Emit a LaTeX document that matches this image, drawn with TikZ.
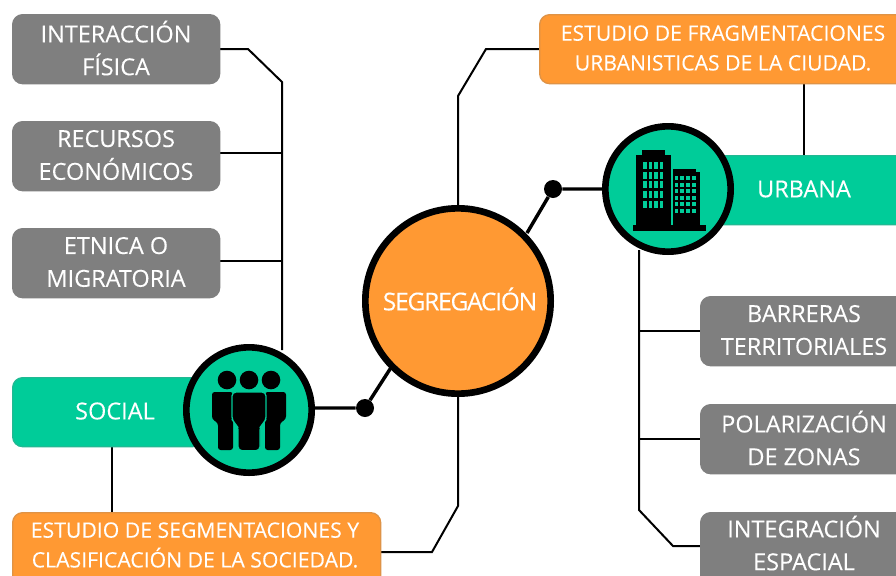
\documentclass[tikz,border=0pt]{standalone}
\usepackage{fontspec}
\setmainfont[FakeBold=0.12]{Open Sans}
\definecolor{cgray}{HTML}{7F7F7F}
\definecolor{cgreen}{HTML}{00CC99}
\definecolor{corange}{HTML}{FF9933}
\tikzset{
  box/.style={rectangle,rounded corners=7.5pt,draw=#1!75!gray,fill=#1,line width=1pt,inner sep=0pt,anchor=north west},
  lab/.style={text=white,align=center,inner sep=0pt,font=\fontsize{17.6}{24.6}\selectfont},
  lab small/.style={text=white,align=center,inner sep=0pt,font=\fontsize{15.9}{22.3}\selectfont},
  hub/.style={circle,draw=black,line width=5pt,inner sep=0pt,minimum size=94pt,fill=cgreen},
  conn/.style={draw=black,line width=1.5pt},
  thick conn/.style={draw=black,line width=2.6pt},
  dot/.style={circle,fill=black,inner sep=0pt,minimum size=13.5pt}
}
\newcommand{\bx}[6]{\node[box=#6,minimum width=#4*0.75pt,minimum height=#5*0.75pt] (#1) at (#2,#3) {};}
\begin{document}
\begin{tikzpicture}[x=0.75pt,y=-0.75pt]
\useasboundingbox (0,0) rectangle (896,575);
\clip (0,0) rectangle (896,575);
\fill[white] (0,0) rectangle (896,575);
\coordinate (j1) at (248,49);
\coordinate (j2) at (282,82);
\coordinate (j3) at (458,96);
\coordinate (j4) at (486,49);
\coordinate (j5) at (458,506);
\coordinate (j6) at (432,552);
\coordinate (j7) at (639,510);
\coordinate (j8) at (673,546);
\coordinate (t1) at (282,153);
\coordinate (t2) at (282,261);
\coordinate (t3) at (639,331);
\coordinate (t4) at (639,439);
\coordinate (t5) at (282,350);
\coordinate (t6) at (639,250);
\coordinate (a2) at (220,49);
\coordinate (b1) at (220,153);
\coordinate (b2) at (220,261);
\coordinate (c1) at (380,552);
\coordinate (c2) at (539,49);
\coordinate (d1) at (700,331);
\coordinate (d2) at (700,439);
\coordinate (d3) at (700,546);
\coordinate (e1) at (112,446);
\coordinate (e2) at (112,512);
\coordinate (f1) at (804,83);
\coordinate (f2) at (804,155);
\coordinate (g1) at (458,210);
\coordinate (g2) at (458,392);
\coordinate (sr) at (312,408);
\coordinate (ul) at (607,189);
\coordinate (sg) at (392,366);
\coordinate (ug) at (527,233);
\path[conn] (a2) -- (j1) -- (j2) -- (t5);
\path[conn] (b1) -- (t1);
\path[conn] (b2) -- (t2);
\path[conn] (g1) -- (j3) -- (j4) -- (c2);
\path[conn] (g2) -- (j5) -- (j6) -- (c1);
\path[conn] (t6) -- (j7) -- (j8) -- (d3);
\path[conn] (t3) -- (d1);
\path[conn] (t4) -- (d2);
\path[conn] (e1) -- (e2);
\path[conn] (f1) -- (f2);
\node[dot] (ds) at (365,408) {};
\node[dot] (du) at (553,189) {};
\path[thick conn] (sr) -- (ds) -- (sg);
\path[thick conn] (ul) -- (du) -- (ug);
\bx{i1}{12}{14}{207}{69}{cgray}
\node[lab] (i1t) at (116,48) {INTERACCIÓN\\FÍSICA};
\bx{i2}{12}{121}{207}{69}{cgray}
\node[lab] (i2t) at (116,155) {RECURSOS\\ECONÓMICOS};
\bx{i3}{12}{228}{207}{69}{cgray}
\node[lab] (i3t) at (116,262) {ETNICA O\\MIGRATORIA};
\bx{soc}{12}{377}{190}{69}{cgreen}
\node[lab] (soct) at (115,411) {SOCIAL};
\bx{o1}{12}{512}{368}{80}{corange}
\node[lab small] (o1t) at (195,545) {ESTUDIO DE SEGMENTACIONES Y\\CLASIFICACIÓN DE LA SOCIEDAD.};
\bx{o2}{539}{14}{400}{69}{corange}
\node[lab small] (o2t) at (723,48) {ESTUDIO DE FRAGMENTACIONES\\URBANISTICAS DE LA CIUDAD.};
\bx{urb}{700}{155}{230}{69}{cgreen}
\node[lab] (urbt) at (804,189) {URBANA};
\bx{r1}{700}{296}{240}{69}{cgray}
\node[lab] (r1t) at (804,330) {BARRERAS\\TERRITORIALES};
\bx{r2}{700}{404}{240}{69}{cgray}
\node[lab] (r2t) at (804,438) {POLARIZACIÓN\\DE ZONAS};
\bx{r3}{700}{512}{240}{80}{cgray}
\node[lab] (r3t) at (804,543) {INTEGRACIÓN\\ESPACIAL};
% hubs
\node[hub] (hs) at (249,410) {};
\node[hub] (hu) at (668,189) {};
\node[circle,draw=black,line width=5pt,fill=corange,minimum size=139pt,inner sep=0pt] (seg) at (458,301) {};
\node[text=white,inner sep=0pt,font=\fontsize{18.4}{20}\selectfont] (segt) at (460,299) {\addfontfeature{LetterSpace=-5}SEGREGACIÓN};
% people icon
\fill (227,380) circle (9.3);
\fill (249,380) circle (9.3);
\fill (271,380) circle (9.3);
\fill[rounded corners=2pt] (212,392) -- (233,392) -- (233,450) -- (218,450) -- (218,423) -- (212,419) -- cycle;
\fill[rounded corners=2pt] (286,392) -- (265,392) -- (265,450) -- (280,450) -- (280,423) -- (286,419) -- cycle;
\filldraw[draw=cgreen,line width=1pt,rounded corners=3pt] (232,392) -- (266,392) -- (266,421) -- (260,426) -- (260,450.7) -- (238,450.7) -- (238,426) -- (232,421) -- cycle;
% building icon
\fill (633,225) rectangle (706,231);
\fill (636,155) rectangle (671,227);
\fill (642,150) rectangle (665,156);
\fill (673,172) rectangle (700,227);
\fill (673,169) rectangle (696,173);
\foreach \yy in {162,172,181,191,201} \foreach \xx in {643,648.6,654.2,659.8}
  \fill[cgreen] (\xx,\yy) rectangle ++(3.6,6.5);
\foreach \yy in {176,182.5,189,195.5,202,208.5} \foreach \xx in {674.5,680.3,686.1,691.9}
  \fill[cgreen] (\xx,\yy) rectangle ++(3.8,4);
\end{tikzpicture}
\end{document}
